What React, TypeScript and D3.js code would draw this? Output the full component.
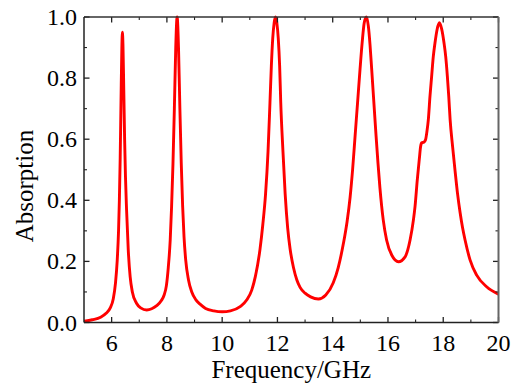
import React from "react";
import * as d3 from "d3";

const freq = [
  5.0, 5.3, 5.6, 5.8, 5.95, 6.06, 6.14, 6.2, 6.25, 6.28, 6.31, 6.34, 6.37, 6.39, 6.41, 6.44, 6.47, 6.5, 6.54, 6.6,
  6.67, 6.75, 6.9, 7.05, 7.27, 7.45, 7.63, 7.8, 7.9, 7.98, 8.05, 8.12, 8.17, 8.22, 8.27, 8.32, 8.37, 8.42, 8.47, 8.52,
  8.57, 8.62, 8.68, 8.78, 8.9, 9.05, 9.2, 9.4, 9.7, 10.0, 10.3, 10.65, 10.9, 11.07, 11.2, 11.37, 11.47, 11.57, 11.66, 11.73, 11.78,
  11.83, 11.88, 11.93, 11.98, 12.03, 12.08, 12.12, 12.2, 12.28, 12.37, 12.46, 12.58, 12.7, 12.82, 13.0, 13.2, 13.48, 13.75, 14.02, 14.2, 14.39,
  14.52, 14.63, 14.72, 14.81, 14.9, 14.99, 15.07, 15.14, 15.22, 15.29, 15.35, 15.41, 15.49, 15.57, 15.64, 15.71, 15.83, 15.95, 16.14, 16.38,
  16.62, 16.8, 16.92, 16.98, 17.06, 17.14, 17.18, 17.22, 17.3, 17.36, 17.41, 17.46, 17.52, 17.58, 17.64, 17.7, 17.78, 17.86, 17.94, 18.03,
  18.09, 18.15, 18.2, 18.25, 18.34, 18.43, 18.52, 18.61, 18.7, 18.79, 18.97, 19.21, 19.57, 20.0,
];
const absorption = [
  0.004, 0.009, 0.017, 0.03, 0.048, 0.078, 0.13, 0.2, 0.3, 0.4, 0.54, 0.73, 0.9, 0.95, 0.91, 0.76, 0.6, 0.48, 0.37, 0.24,
  0.15, 0.1, 0.063, 0.048, 0.041, 0.045, 0.055, 0.072, 0.09, 0.12, 0.18, 0.27, 0.38, 0.52, 0.7, 0.9, 1.0, 0.9, 0.7, 0.52,
  0.38, 0.28, 0.205, 0.14, 0.1, 0.074, 0.06, 0.046, 0.038, 0.035, 0.038, 0.052, 0.075, 0.106, 0.15, 0.24, 0.32, 0.42, 0.56, 0.72, 0.84,
  0.93, 0.98, 1.0, 0.98, 0.93, 0.84, 0.72, 0.56, 0.42, 0.31, 0.24, 0.18, 0.14, 0.115, 0.096, 0.084, 0.077, 0.09, 0.13, 0.18, 0.26,
  0.33, 0.41, 0.5, 0.61, 0.72, 0.83, 0.92, 0.98, 1.0, 0.97, 0.91, 0.83, 0.72, 0.61, 0.52, 0.44, 0.335, 0.27, 0.22, 0.199,
  0.215, 0.27, 0.335, 0.38, 0.466, 0.54, 0.575, 0.588, 0.59, 0.598, 0.625, 0.663, 0.74, 0.805, 0.87, 0.914, 0.96, 0.981, 0.962, 0.914,
  0.87, 0.805, 0.74, 0.663, 0.575, 0.495, 0.42, 0.36, 0.31, 0.27, 0.205, 0.155, 0.117, 0.093,
];

const xMajorTicks = [6, 8, 10, 12, 14, 16, 18, 20];
const xMinorTicks = [7, 9, 11, 13, 15, 17, 19];
const yMajorTicks = [0, 0.2, 0.4, 0.6, 0.8, 1.0];
const yMinorTicks = [0.1, 0.3, 0.5, 0.7, 0.9];
const xTitle = "Frequency/GHz";
const yTitle = "Absorption";

const W = 521;
const H = 390;
const L = 84;
const R = 498.5;
const T = 17;
const B = 322.5;
const FONT = "Liberation Serif, Times New Roman, serif";

export default function App() {
  const x = d3.scaleLinear().domain([5, 20]).range([L, R]);
  const y = d3.scaleLinear().domain([0, 1]).range([B, T]);
  const pts = freq.map((f, i) => [f, absorption[i]] as [number, number]);
  const line = d3
    .line<[number, number]>()
    .x((d) => x(d[0]))
    .y((d) => y(d[1]))
    .curve(d3.curveMonotoneX);
  const axisColor = "#222";
  const major = 5.5;
  const minor = 3;
  return (
    <svg
      width={W}
      height={H}
      style={{ position: "absolute", left: 0, top: 0, background: "#fff" }}
    >
      <defs>
        <clipPath id="plotclip">
          <rect x={L} y={T - 2} width={R - L} height={B - T + 2} />
        </clipPath>
      </defs>
      <path
        d={line(pts) || ""}
        fill="none"
        stroke="#ff0000"
        strokeWidth={2.9}
        strokeLinejoin="round"
        clipPath="url(#plotclip)"
      />
      {xMajorTicks.map((t) => (
        <g key={"xM" + t} stroke={axisColor} strokeWidth={1.3}>
          <line x1={x(t)} x2={x(t)} y1={B} y2={B - major} />
          <line x1={x(t)} x2={x(t)} y1={T} y2={T + major} />
        </g>
      ))}
      {xMinorTicks.map((t) => (
        <g key={"xm" + t} stroke={axisColor} strokeWidth={1.1}>
          <line x1={x(t)} x2={x(t)} y1={B} y2={B - minor} />
          <line x1={x(t)} x2={x(t)} y1={T} y2={T + minor} />
        </g>
      ))}
      {yMajorTicks.map((t) => (
        <g key={"yM" + t} stroke={axisColor} strokeWidth={1.3}>
          <line x1={L} x2={L + major} y1={y(t)} y2={y(t)} />
          <line x1={R} x2={R - major} y1={y(t)} y2={y(t)} />
        </g>
      ))}
      {yMinorTicks.map((t) => (
        <g key={"ym" + t} stroke={axisColor} strokeWidth={1.1}>
          <line x1={L} x2={L + minor} y1={y(t)} y2={y(t)} />
          <line x1={R} x2={R - minor} y1={y(t)} y2={y(t)} />
        </g>
      ))}
      <line x1={L} x2={R} y1={T} y2={T} stroke="#333" strokeWidth={1.5} />
      <line x1={L} x2={R} y1={B} y2={B} stroke="#222" strokeWidth={1.5} />
      <line x1={L} x2={L} y1={T} y2={B} stroke="#222" strokeWidth={1.5} />
      <line x1={R} x2={R} y1={T} y2={B} stroke="#666" strokeWidth={2} />
      {xMajorTicks.map((t) => (
        <text key={"xl" + t} x={x(t)} y={351} textAnchor="middle" fontSize={24} fill="#000" fontFamily={FONT}>
          {t}
        </text>
      ))}
      {yMajorTicks.map((t) => (
        <text key={"yl" + t} x={77} y={y(t) + 8} textAnchor="end" fontSize={24} fill="#000" fontFamily={FONT}>
          {d3.format(".1f")(t)}
        </text>
      ))}
      <text x={(L + R) / 2} y={378} textAnchor="middle" fontSize={25} fill="#000" fontFamily={FONT}>
        {xTitle}
      </text>
      <text
        transform={`translate(33, ${186}) rotate(-90)`}
        textAnchor="middle"
        fontSize={25}
        fill="#000"
        fontFamily={FONT}
      >
        {yTitle}
      </text>
    </svg>
  );
}
